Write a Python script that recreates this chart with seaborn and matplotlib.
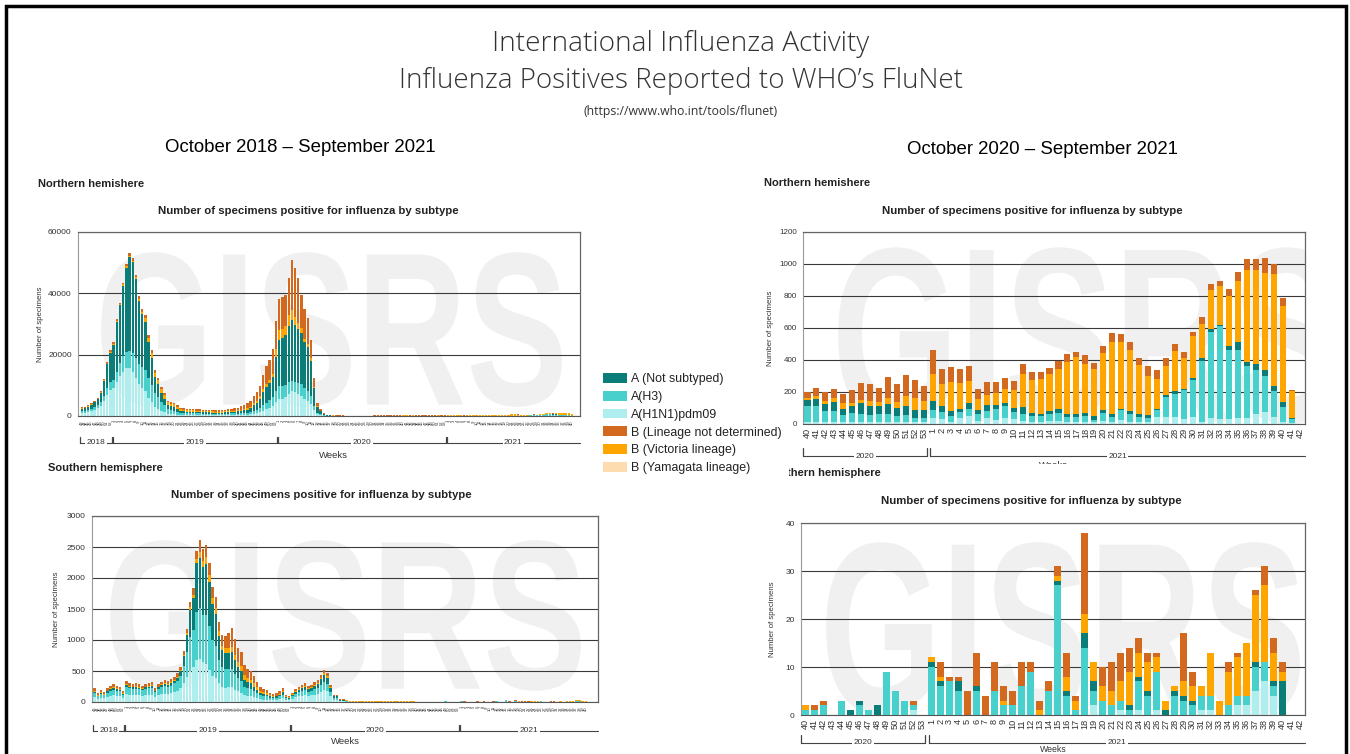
import numpy as np
import pandas as pd
import matplotlib
matplotlib.use("Agg")
import matplotlib.pyplot as plt
import seaborn as sns
from matplotlib.patches import Patch, Rectangle, PathPatch
from matplotlib.textpath import TextPath
from matplotlib.font_manager import FontProperties
from matplotlib.transforms import Affine2D, blended_transform_factory, Bbox, TransformedBbox

sns.set_theme(style="white")
plt.rcParams['font.family'] = ['Liberation Sans', 'DejaVu Sans']

# ---------------- DATA ----------------
subtypes = ["A (Not subtyped)", "A(H3)", "A(H1N1)pdm09",
            "B (Lineage not determined)", "B (Victoria lineage)", "B (Yamagata lineage)"]

# week labels
recent_weeks = [str(w) for w in range(40, 54)] + [str(w) for w in range(1, 43)]          # 2020w40 .. 2021w42
left_weeks = ([str(w) for w in range(43, 53)] + [str(w) for w in range(1, 53)] +
              [str(w) for w in range(1, 54)] + [str(w) for w in range(1, 41)])             # 2018w43 .. 2021w40

# Northern hemisphere, 2018w43 .. 2020w39 (101 weeks)
nh_early_h1n1 = [1000, 1100, 1300, 1600, 2000, 2500, 3300, 5000, 7000, 8500,
                 9000, 11000, 13000, 14500, 15500, 15500, 14500, 12500, 10500, 9000,
                 8000, 6000, 4500, 3000, 2300, 1600, 1200, 800, 600, 500,
                 400, 300, 300,
                 300, 280, 280, 260, 260, 250, 240, 240, 230, 220, 220, 240, 250, 270, 280, 290,
                 300, 350, 400, 450, 500, 700, 900, 1200, 1700, 2200,
                 2700, 3300, 4500, 5400, 5700, 6200, 7200, 8100, 7800, 7200,
                 6500, 5500, 5000, 4000, 1800, 600, 300, 120, 40,
                 40, 35, 30, 27, 25, 24, 22, 22, 21, 21, 22, 22, 24, 24, 25, 25, 27, 27, 28, 28, 30, 30, 20]
nh_early_h3 = [600, 600, 700, 800, 900, 1000, 1200, 1600, 2200, 2600,
               2800, 3500, 4200, 5000, 5500, 5800, 6000, 6500, 6500, 7000,
               7000, 6500, 5500, 4500, 3800, 3000, 2400, 1500, 1300, 1200,
               900, 700, 600,
               600, 580, 580, 560, 560, 540, 520, 520, 500, 480, 480, 500, 500, 520, 540, 540,
               500, 550, 600, 650, 750, 900, 1100, 1400, 1800, 2200,
               2500, 2900, 3600, 4300, 4100, 4000, 3800, 3250, 3300, 3500,
               3800, 3500, 3300, 2600, 1300, 400, 200, 80, 30,
               50, 45, 40, 36, 34, 32, 30, 30, 28, 28, 30, 30, 32, 32, 34, 34, 36, 36, 38, 38, 40, 40, 60]
nh_early_anot = [700, 800, 1000, 1300, 1600, 2000, 3000, 4800, 7600, 9600,
                 11400, 16200, 18900, 23000, 27300, 30500, 29700, 25800, 20400, 17100,
                 15700, 11600, 8900, 5300, 4300, 2900, 2100, 1300, 1200, 1100,
                 900, 700, 600,
                 500, 480, 480, 460, 460, 440, 420, 420, 400, 380, 380, 400, 420, 460, 500, 560,
                 700, 800, 900, 1000, 1300, 1900, 2300, 3000, 4300, 5000,
                 5600, 6400, 11200, 15200, 15600, 16200, 18500, 19950, 18600, 17600,
                 16700, 15000, 14200, 11400, 6000, 2000, 1000, 400, 130,
                 75, 66, 60, 54, 51, 48, 45, 45, 42, 42, 45, 45, 48, 48, 51, 51, 54, 54, 57, 57, 60, 60, 45]
nh_early_vic = [200, 200, 200, 200, 200, 200, 200, 250, 300, 300,
                300, 300, 300, 400, 500, 500, 500, 500, 700, 900,
                1200, 1300, 1500, 1200, 1200, 1200, 1100, 900, 900, 1000,
                800, 600, 600,
                550, 530, 530, 500, 500, 470, 440, 440, 410, 380, 380, 380, 380, 400, 400, 350,
                300, 350, 400, 450, 500, 600, 700, 800, 900, 1000,
                1000, 1100, 2500, 3200, 3100, 3000, 3300, 3300, 2500, 2000,
                1600, 1200, 1000, 800, 400, 150, 100, 50, 20,
                35, 31, 30, 27, 25, 24, 23, 23, 21, 21, 23, 23, 24, 24, 25, 25, 27, 27, 28, 28, 30, 30, 20]
nh_early_bnd = [300, 300, 300, 300, 300, 300, 300, 350, 400, 500,
                500, 500, 600, 600, 700, 700, 800, 700, 900, 1000,
                1100, 1100, 1100, 1000, 900, 800, 700, 500, 500, 500,
                500, 400, 400,
                450, 430, 430, 420, 420, 400, 380, 380, 360, 340, 340, 380, 450, 550, 680, 760,
                900, 1150, 1300, 1550, 1850, 2400, 2800, 3300, 4800, 5800,
                6600, 8100, 9200, 9900, 10200, 10100, 12100, 16200, 15900, 14600,
                10900, 9800, 8400, 6100, 2900, 1150, 600, 250, 80,
                50, 43, 40, 36, 35, 32, 30, 30, 28, 28, 30, 30, 32, 32, 35, 35, 36, 36, 39, 39, 40, 40, 45]
nh_early_yam = [0] * 101

# Northern hemisphere, 2020w40 .. 2021w42 (56 weeks)
nh_h1n1 = [10, 15, 10, 10, 10, 10, 15, 10, 10, 10, 10, 10, 15, 10,
           40, 30, 15, 35, 50, 20, 35, 25, 40, 30, 20, 10, 15, 20, 20, 15, 15, 15, 10, 20,
           15, 25, 15, 10, 10, 45, 45, 45, 30, 45, 15, 40, 30, 30, 35, 40, 60, 75, 45, 10, 5, 0]
nh_h3 = [100, 95, 70, 70, 45, 60, 50, 45, 50, 50, 40, 45, 25, 25,
         50, 45, 35, 40, 45, 40, 45, 70, 70, 42, 40, 38, 35, 40, 50, 30, 30, 35, 15, 50,
         30, 60, 45, 35, 25, 45, 125, 145, 180, 230, 380, 535, 580, 435, 430, 325, 280, 225, 160, 95, 25, 0]
nh_anot = [40, 45, 45, 60, 40, 42, 65, 60, 50, 62, 50, 60, 48, 50,
           55, 35, 32, 20, 35, 28, 37, 23, 20, 28, 45, 20, 15, 20, 22, 20, 20, 18, 23, 15,
           15, 10, 20, 17, 20, 5, 10, 15, 10, 10, 15, 20, 10, 25, 45, 25, 38, 35, 30, 30, 5, 0]
nh_vic = [15, 20, 20, 25, 35, 18, 18, 30, 30, 38, 35, 60, 74, 57,
          170, 142, 178, 163, 138, 67, 63, 77, 90, 112, 210, 204, 218, 230, 253, 325, 355, 310, 297, 360,
          455, 420, 385, 308, 245, 185, 185, 250, 195, 265, 215, 240, 240, 310, 385, 570, 587, 610, 700, 605, 170, 0]
nh_bnd = [38, 50, 55, 55, 60, 82, 109, 107, 85, 135, 115, 130, 113, 98,
          145, 93, 98, 85, 97, 65, 83, 68, 65, 56, 58, 51, 44, 37, 48, 50, 30, 54, 35, 40,
          55, 45, 48, 45, 65, 55, 50, 45, 35, 25, 45, 40, 33, 45, 58, 70, 68, 92, 65, 48, 5, 0]
nh_yam = [0] * 56

# Southern hemisphere, 2018w43 .. 2020w39 (101 weeks)
sh_early_h1n1 = [80, 50, 70, 60, 85, 100, 110, 100, 90, 60,
                 130, 120, 110, 115, 110, 100, 110, 120, 120, 80,
                 110, 125, 135, 125, 140, 160, 180, 220, 300, 400,
                 500, 560, 680, 700, 640, 620, 520, 420, 380, 300,
                 250, 230, 240, 240, 200, 170, 150, 110, 100, 90,
                 80, 60, 50, 40, 40, 30, 30, 35, 45, 60,
                 35, 30, 50, 75, 90, 100, 110, 95, 105, 120,
                 130, 160, 190, 170, 90, 35, 30, 10, 10, 5,
                 2, 2, 1, 2, 1, 2, 2, 1, 2, 1,
                 2, 2, 1, 2, 1, 2, 1, 2, 1, 2, 1]
sh_early_h3 = [60, 40, 55, 50, 65, 80, 90, 80, 80, 60,
               110, 100, 100, 100, 95, 90, 100, 105, 110, 75,
               100, 110, 120, 115, 125, 140, 160, 200, 280, 400,
               550, 600, 770, 810, 760, 780, 700, 580, 520, 380,
               320, 300, 290, 300, 250, 210, 190, 140, 130, 120,
               100, 80, 60, 55, 50, 40, 35, 35, 45, 60,
               30, 25, 40, 60, 70, 80, 85, 70, 80, 90,
               95, 120, 140, 125, 70, 30, 30, 10, 10, 5,
               3, 3, 3, 3, 3, 3, 3, 3, 3, 3,
               3, 3, 3, 3, 3, 3, 3, 3, 3, 3, 3]
sh_early_anot = [20, 10, 15, 10, 20, 25, 25, 25, 20, 15,
                 30, 20, 25, 25, 20, 20, 25, 25, 30, 20,
                 25, 35, 35, 35, 40, 45, 55, 80, 160, 280,
                 440, 520, 790, 810, 770, 820, 720, 580, 520, 380,
                 270, 260, 255, 260, 220, 180, 160, 110, 100, 90,
                 70, 60, 40, 35, 30, 25, 20, 20, 25, 35,
                 20, 15, 25, 30, 35, 45, 50, 40, 45, 55,
                 65, 90, 110, 100, 70, 30, 35, 15, 15, 10,
                 3, 3, 3, 3, 3, 3, 3, 3, 3, 3,
                 3, 3, 3, 3, 3, 3, 3, 3, 3, 3, 3]
sh_early_vic = [10, 10, 15, 10, 10, 15, 15, 15, 15, 10,
                20, 15, 15, 15, 15, 15, 15, 15, 15, 10,
                15, 15, 15, 15, 15, 15, 15, 20, 25, 30,
                40, 50, 70, 100, 110, 120, 110, 100, 100, 80,
                70, 80, 80, 90, 90, 80, 80, 70, 60, 60,
                50, 40, 30, 25, 20, 15, 10, 10, 15, 20,
                10, 5, 10, 10, 15, 15, 15, 15, 15, 15,
                15, 20, 20, 20, 10, 5, 5, 5, 5, 5,
                2, 2, 2, 2, 2, 2, 2, 2, 2, 2,
                2, 2, 2, 2, 2, 2, 2, 2, 2, 2, 2]
sh_early_bnd = [50, 30, 40, 35, 40, 45, 50, 45, 45, 35,
                50, 45, 40, 45, 45, 40, 40, 45, 45, 35,
                40, 45, 50, 45, 45, 50, 50, 50, 55, 70,
                90, 110, 130, 190, 190, 200, 200, 170, 180, 150,
                170, 190, 245, 300, 250, 230, 220, 160, 150, 140,
                120, 90, 60, 55, 50, 40, 35, 40, 45, 55,
                25, 20, 25, 35, 35, 40, 40, 35, 35, 40,
                45, 50, 60, 55, 40, 20, 20, 10, 10, 5,
                3, 3, 3, 3, 3, 3, 3, 3, 3, 3,
                3, 3, 3, 3, 3, 3, 3, 3, 3, 3, 3]
sh_early_yam = [0] * 101

# Southern hemisphere, 2020w40 .. 2021w42 (56 weeks)
sh_h1n1 = [0, 0, 0, 0, 0, 0, 0, 0, 0, 0, 0, 0, 1, 0,
           0, 0, 0, 0, 0, 0, 0, 0, 0, 0, 0, 0, 0, 0, 0, 0, 0, 0, 2, 0,
           0, 1, 0, 1, 0, 1, 0, 0, 0, 0, 1, 1, 0, 0, 2, 2, 5, 7, 4, 0, 0, 0]
sh_h3 = [1, 1, 2, 0, 3, 0, 2, 1, 0, 9, 5, 3, 1, 0,
         10, 6, 7, 5, 0, 5, 0, 5, 2, 2, 6, 9, 0, 5, 27, 4, 1, 14, 3, 3,
         2, 2, 1, 6, 4, 8, 0, 4, 3, 2, 3, 3, 0, 2, 2, 2, 5, 4, 2, 0, 0, 0]
sh_anot = [0, 0, 0, 0, 0, 1, 1, 0, 2, 0, 0, 0, 0, 0,
           1, 1, 0, 2, 0, 1, 0, 0, 0, 0, 0, 0, 0, 0, 1, 1, 0, 3, 2, 0,
           0, 0, 1, 1, 1, 0, 1, 1, 1, 1, 0, 0, 0, 0, 0, 0, 1, 0, 1, 7, 0, 0]
sh_vic = [1, 0, 0, 0, 0, 0, 0, 0, 0, 0, 0, 0, 0, 0,
          1, 1, 0, 0, 0, 0, 0, 0, 1, 0, 0, 0, 1, 0, 1, 3, 2, 4, 4, 3,
          3, 4, 7, 5, 6, 3, 2, 1, 3, 3, 2, 9, 3, 7, 8, 11, 14, 16, 6, 2, 0, 0]
sh_bnd = [0, 1, 1, 0, 0, 0, 0, 0, 0, 0, 0, 0, 1, 0,
          0, 3, 1, 1, 5, 7, 4, 6, 3, 3, 5, 2, 2, 2, 2, 5, 1, 17, 0, 4,
          6, 6, 5, 3, 2, 1, 0, 0, 10, 3, 0, 0, 0, 2, 1, 0, 1, 4, 3, 2, 0, 0]
sh_yam = [0] * 56

N_LEFT_RECENT = 54  # 2020w40 .. 2021w40 shown on the 3-year charts

# colours (bottom -> top stacking order)
col = {"A(H1N1)pdm09": "#afeeee", "A(H3)": "#48d1cc", "A (Not subtyped)": "#0b7d79",
       "B (Yamagata lineage)": "#fddcb0", "B (Victoria lineage)": "#ffa500",
       "B (Lineage not determined)": "#d2691e"}
stack_order = ["A(H1N1)pdm09", "A(H3)", "A (Not subtyped)",
               "B (Yamagata lineage)", "B (Victoria lineage)", "B (Lineage not determined)"]

nh_recent = {"A(H1N1)pdm09": nh_h1n1, "A(H3)": nh_h3, "A (Not subtyped)": nh_anot,
             "B (Yamagata lineage)": nh_yam, "B (Victoria lineage)": nh_vic,
             "B (Lineage not determined)": nh_bnd}
sh_recent = {"A(H1N1)pdm09": sh_h1n1, "A(H3)": sh_h3, "A (Not subtyped)": sh_anot,
             "B (Yamagata lineage)": sh_yam, "B (Victoria lineage)": sh_vic,
             "B (Lineage not determined)": sh_bnd}
nh_early = {"A(H1N1)pdm09": nh_early_h1n1, "A(H3)": nh_early_h3, "A (Not subtyped)": nh_early_anot,
            "B (Yamagata lineage)": nh_early_yam, "B (Victoria lineage)": nh_early_vic,
            "B (Lineage not determined)": nh_early_bnd}
sh_early = {"A(H1N1)pdm09": sh_early_h1n1, "A(H3)": sh_early_h3, "A (Not subtyped)": sh_early_anot,
            "B (Yamagata lineage)": sh_early_yam, "B (Victoria lineage)": sh_early_vic,
            "B (Lineage not determined)": sh_early_bnd}
nh_left = {k: list(nh_early[k]) + list(nh_recent[k][:N_LEFT_RECENT]) for k in stack_order}
sh_left = {k: list(sh_early[k]) + list(sh_recent[k][:N_LEFT_RECENT]) for k in stack_order}

# ---------------- FIGURE ----------------
W, H = 1350, 754
fig = plt.figure(figsize=(W / 100, H / 100), dpi=100)
fig.patch.set_facecolor("white")


def rect(x0, y0, x1, y1):
    return [x0 / W, 1 - y1 / H, (x1 - x0) / W, (y1 - y0) / H]


def ftext(x, y, s, **kw):
    return fig.text(x / W, 1 - y / H, s, **kw)


def stacked(ax, data, width):
    n = len(data[stack_order[0]])
    pos = np.arange(n)
    cum = np.cumsum(np.array([data[k] for k in stack_order], dtype=float), axis=0)
    for k in range(len(stack_order) - 1, -1, -1):
        df = pd.DataFrame({"week": pos, "count": cum[k]})
        sns.barplot(data=df, x="week", y="count", color=col[stack_order[k]], width=width,
                    errorbar=None, saturation=1, linewidth=0, native_scale=True, ax=ax, zorder=2)


def watermark(ax, box):
    tp = TextPath((0, 0), "GISRS", size=1, prop=FontProperties(family="Liberation Sans", weight="bold"))
    bb = tp.get_extents()
    x0, y0, x1, y1 = box
    tr = (Affine2D().translate(-bb.x0, -bb.y0)
          .scale((x1 - x0) / bb.width, (y1 - y0) / bb.height)
          .translate(x0, y0) + ax.transAxes)
    p = PathPatch(tp, transform=tr, facecolor="#f0f0f0", edgecolor="none", zorder=0.1)
    ax.add_patch(p)
    p.set_clip_path(ax.patch)


def style_axes(ax, yticks, ylabels, xlabels, xfs, yfs, xlim):
    ax.set_xlim(*xlim)
    ax.set_ylim(yticks[0], yticks[-1])
    ax.set_yticks(yticks)
    ax.set_yticklabels(ylabels, fontsize=yfs, color="#333333")
    ax.set_xticks(np.arange(len(xlabels)))
    ax.set_xticklabels(xlabels, rotation=90, fontsize=xfs, color="#333333")
    ax.tick_params(axis="x", length=2, width=0.5, color="#555555", pad=1)
    ax.tick_params(axis="y", length=3, width=0.6, color="#777777", pad=1.5)
    ax.set_xlabel("")
    ax.set_ylabel("")
    ax.set_axisbelow(True)
    ax.yaxis.grid(True, color="#3a3a3a", linewidth=0.8)
    ax.xaxis.grid(False)
    for s in ["top", "right"]:
        ax.spines[s].set_color("#666666")
        ax.spines[s].set_linewidth(0.9)
    ax.spines["left"].set_color("#999999")
    ax.spines["left"].set_linewidth(0.8)
    ax.spines["bottom"].set_color("#555555")
    ax.spines["bottom"].set_linewidth(0.8)
    ax.set_facecolor("white")


def brackets(ax, segs, below_px, tick_px, ax_h_px, fs):
    tr = blended_transform_factory(ax.transData, ax.transAxes)
    yb = -below_px / ax_h_px
    yt = yb + tick_px / ax_h_px
    for label, x0, x1, lt, rt in segs:
        ax.plot([x0, x1], [yb, yb], transform=tr, color="#444444", lw=0.8, clip_on=False)
        if lt:
            ax.plot([x0, x0], [yb, yt], transform=tr, color="#444444", lw=0.9, clip_on=False)
        if rt:
            ax.plot([x1, x1], [yb, yt], transform=tr, color="#444444", lw=0.9, clip_on=False)
        ax.text((x0 + x1) / 2, yb, label, transform=tr, ha="center", va="center", fontsize=fs,
                color="#333333", bbox=dict(facecolor="white", edgecolor="none", pad=1.0), clip_on=False)


# axes
ax_nl = fig.add_axes(rect(78, 232, 580, 416))
ax_sl = fig.add_axes(rect(92, 516, 598, 702))
ax_nr = fig.add_axes(rect(803, 232, 1305, 424))
ax_sr = fig.add_axes(rect(801, 523, 1305, 715))

stacked(ax_nl, nh_left, 0.75)
stacked(ax_sl, sh_left, 0.75)
stacked(ax_nr, nh_recent, 0.68)
stacked(ax_sr, sh_recent, 0.68)

watermark(ax_nl, (0.046, 0.05, 0.964, 0.89))
watermark(ax_sl, (0.036, 0.06, 0.966, 0.87))
watermark(ax_nr, (0.07, 0.0, 1.06, 0.92))
watermark(ax_sr, (0.05, 0.0, 0.99, 0.90))

style_axes(ax_nl, [0, 20000, 40000, 60000], ["0", "20000", "40000", "60000"], left_weeks, 3.0, 6.0, (-1.2, 156.5))
style_axes(ax_sl, [0, 500, 1000, 1500, 2000, 2500, 3000],
           ["0", "500", "1000", "1500", "2000", "2500", "3000"], left_weeks, 3.0, 6.0, (-0.8, 157.8))
style_axes(ax_nr, [0, 200, 400, 600, 800, 1000, 1200],
           ["0", "200", "400", "600", "800", "1000", "1200"], recent_weeks, 6.6, 5.8, (-0.5, 55.5))
style_axes(ax_sr, [0, 10, 20, 30, 40], ["0", "10", "20", "30", "40"], recent_weeks, 6.6, 6.0, (-0.5, 55.5))

# y-axis labels
for ax, xpx, ypx in [(ax_nl, 40, 324), (ax_sl, 57, 609), (ax_nr, 770, 328), (ax_sr, 773, 619)]:
    ftext(xpx, ypx, "Number of specimens", rotation=90, ha="center", va="center", fontsize=5.6, color="#333333")

# year brackets
brackets(ax_nl, [("2018", -0.5, 9.35, True, True), ("2019", 9.65, 61.35, True, True),
                 ("2020", 61.65, 114.35, True, True), ("2021", 114.65, 156.5, True, False)],
         27, 6, 184, 6.0)
brackets(ax_sl, [("2018", -0.5, 9.35, True, True), ("2019", 9.65, 61.35, True, True),
                 ("2020", 61.65, 114.35, True, True), ("2021", 114.65, 157.8, True, False)],
         29, 6, 186, 6.0)
brackets(ax_nr, [("2020", -0.5, 13.33, True, True), ("2021", 13.67, 55.5, True, False)],
         32, 8, 192, 6.0)
brackets(ax_sr, [("2020", -0.5, 13.33, True, True), ("2021", 13.67, 55.5, True, False)],
         28, 8, 192, 6.0)

ftext(333, 455, "Weeks", ha="center", va="center", fontsize=6.8, color="#333333")
ftext(345, 742, "Weeks", ha="center", va="center", fontsize=6.8, color="#333333")
t_w1 = ftext(1053, 466, "Weeks", ha="center", va="center", fontsize=6.8, color="#333333")
t_w1.set_clip_box(TransformedBbox(Bbox([[0, 1 - 464 / H], [1, 1]]), fig.transFigure))
ftext(1053, 749, "Weeks", ha="center", va="center", fontsize=6.3, color="#333333")

# titles
TF = ["Open Sans", "DejaVu Sans"]
ftext(681, 44, "International Influenza Activity", ha="center", va="center", fontsize=20.2,
      family=TF, weight="light", color="#333333")
ftext(681, 81, "Influenza Positives Reported to WHO\u2019s FluNet", ha="center", va="center", fontsize=20.0,
      family=TF, weight="light", color="#333333")
ftext(681, 111, "(https://www.who.int/tools/flunet)", ha="center", va="center", fontsize=8.8,
      family=TF, color="#333333")
ftext(300, 147, "October 2018 \u2013 September 2021", ha="center", va="center", fontsize=13.4, color="black")
ftext(1042, 149, "October 2020 \u2013 September 2021", ha="center", va="center", fontsize=13.4, color="black")

ftext(38, 184, "Northern hemishere", ha="left", va="center", fontsize=8.0, weight="bold", color="#222222")
ftext(764, 183, "Northern hemishere", ha="left", va="center", fontsize=8.0, weight="bold", color="#222222")
ftext(48, 468, "Southern hemisphere", ha="left", va="center", fontsize=8.0, weight="bold", color="#222222")
t_sh = ftext(766, 473, "Southern hemisphere", ha="left", va="center", fontsize=8.0, weight="bold", color="#222222")
t_sh.set_clip_box(TransformedBbox(Bbox([[789 / W, 0], [1, 1]]), fig.transFigure))

sub = "Number of specimens positive for influenza by subtype"
ftext(308, 211, sub, ha="center", va="center", fontsize=8.2, weight="bold", color="#222222")
ftext(1032, 211, sub, ha="center", va="center", fontsize=8.2, weight="bold", color="#222222")
ftext(321, 495, sub, ha="center", va="center", fontsize=8.2, weight="bold", color="#222222")
ftext(1031, 501, sub, ha="center", va="center", fontsize=8.2, weight="bold", color="#222222")

# legend
handles = [Patch(facecolor=col[k], edgecolor="none", label=k) for k in subtypes]
fig.legend(handles=handles, loc="upper left", bbox_to_anchor=(603 / W, 1 - 373 / H), frameon=False,
           fontsize=8.9, handlelength=1.95, handleheight=0.85, labelspacing=0.45, handletextpad=0.35,
           borderaxespad=0, borderpad=0, labelcolor="#222222")

# outer frame
fig.add_artist(Rectangle((6 / W, -0.05), 1340 / W, 1.05 - 6 / H, transform=fig.transFigure,
                         fill=False, edgecolor="black", linewidth=2.5))

fig.savefig("out.png", dpi=100, facecolor="white")
